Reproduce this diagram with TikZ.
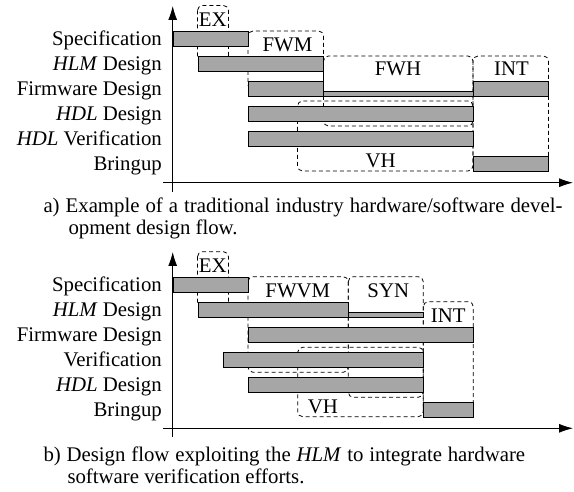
\documentclass[tikz,border=0pt]{standalone}
\usepackage{fontspec}
\setmainfont{Liberation Serif}
\usetikzlibrary{arrows.meta}
\tikzset{
  bar/.style={draw=black, line width=0.9pt, fill=black!35},
  grp/.style={draw=black, line width=0.8pt, dash pattern=on 4pt off 3pt, rounded corners=5pt},
  axis/.style={draw=black, line width=0.9pt, -{Latex[length=14pt,width=9pt]}},
  rowlbl/.style={anchor=base east, inner sep=0pt, font=\fontsize{20.8}{24}\selectfont},
  grplbl/.style={anchor=base, inner sep=0pt, font=\fontsize{20.8}{24}\selectfont},
  captxt/.style={anchor=base west, inner sep=0pt, font=\fontsize{20.8}{24}\selectfont}
}
\begin{document}
\begin{tikzpicture}[x=1pt,y=-1pt]
\useasboundingbox (0,0) rectangle (574,492);
% ================= diagram a =================
% group boxes
\draw[grp] (197.5,5.5) rectangle (228.5,62);
\draw[grp] (248,31) rectangle (323.5,90);
\draw[grp] (323.5,56) rectangle (473,126);
\draw[grp] (473,56) rectangle (548.5,171);
\draw[grp] (297.5,101) rectangle (473,171);
% bars
\path[bar] (173,31) rectangle (248,46);
\path[bar] (198,56) rectangle (323,71);
\path[bar] (248,81) rectangle (323,96);
\path[bar] (323,91) rectangle (473,96);
\path[bar] (473,81) rectangle (548,96);
\path[bar] (248,106) rectangle (473,121);
\path[bar] (248,131) rectangle (473,146);
\path[bar] (473,156) rectangle (548,171);
% axes
\coordinate (ay0) at (172.7,192);
\coordinate (ay1) at (172.7,6);
\coordinate (ax0) at (163,182.7);
\coordinate (ax1) at (573,182.7);
\draw[axis] (ay0) -- (ay1);
\draw[axis] (ax0) -- (ax1);
% group labels
\node[grplbl] (aEX) at (212.7,26.7) {EX};
\node[grplbl] (aFWM) at (287.5,51.7) {FWM};
\node[grplbl] (aFWH) at (398,76) {FWH};
\node[grplbl] (aINT) at (511.5,76) {INT};
\node[grplbl] (aVH) at (380.7,167.7) {VH};
% row labels
\node[rowlbl] (aR1) at (162,45.5) {Specification};
\node[rowlbl] (aR2) at (162,70.5) {\textit{HLM} Design};
\node[rowlbl] (aR3) at (162,95.5) {Firmware Design};
\node[rowlbl] (aR4) at (162,120.5) {\textit{HDL} Design};
\node[rowlbl] (aR5) at (162,145.5) {\textit{HDL} Verification};
\node[rowlbl] (aR6) at (162,170.5) {Bringup};
% caption
\node[captxt] (acap1) at (43.3,213) {\makebox[519pt][s]{a) Example of a traditional industry hardware/software devel-}};
\node[captxt] (acap2) at (68.3,234.5) {opment design flow.};
% ================= diagram b =================
\draw[grp] (197.5,251.7) rectangle (228.5,308);
\draw[grp] (248,276.7) rectangle (348.3,372.3);
\draw[grp] (348.3,276.7) rectangle (423.3,397.3);
\draw[grp] (423.3,301.7) rectangle (473.3,416.7);
\draw[grp] (297.7,347.3) rectangle (423.3,416.7);
% bars
\path[bar] (173,277.3) rectangle (248,292.3);
\path[bar] (198,302.3) rectangle (348,317.3);
\path[bar] (348,312.3) rectangle (423,317.3);
\path[bar] (248,327.3) rectangle (473,342.3);
\path[bar] (223,352.3) rectangle (423,367.3);
\path[bar] (248,377.3) rectangle (423,392.3);
\path[bar] (423,402.3) rectangle (473,417.3);
% axes
\coordinate (by0) at (172.7,437);
\coordinate (by1) at (172.7,252);
\coordinate (bx0) at (163,428.3);
\coordinate (bx1) at (573,428.3);
\draw[axis] (by0) -- (by1);
\draw[axis] (bx0) -- (bx1);
% group labels
\node[grplbl] (bEX) at (212.7,272.7) {EX};
\node[grplbl] (bFWVM) at (297.8,297.3) {FWVM};
\node[grplbl] (bSYN) at (388.3,297.3) {SYN};
\node[grplbl] (bINT) at (448.2,322.3) {INT};
\node[grplbl] (bVH) at (322.8,413.3) {VH};
% row labels
\node[rowlbl] (bR1) at (162,291.8) {Specification};
\node[rowlbl] (bR2) at (162,316.8) {\textit{HLM} Design};
\node[rowlbl] (bR3) at (162,341.8) {Firmware Design};
\node[rowlbl] (bR4) at (162,366.8) {Verification};
\node[rowlbl] (bR5) at (162,391.8) {\textit{HDL} Design};
\node[rowlbl] (bR6) at (162,416.8) {Bringup};
% caption
\node[captxt] (bcap1) at (43.3,461) {\makebox[481.7pt][s]{b) Design flow exploiting the \textit{HLM} to integrate hardware}};
\node[captxt] (bcap2) at (67.3,483) {software verification efforts.};
\end{tikzpicture}
\end{document}
